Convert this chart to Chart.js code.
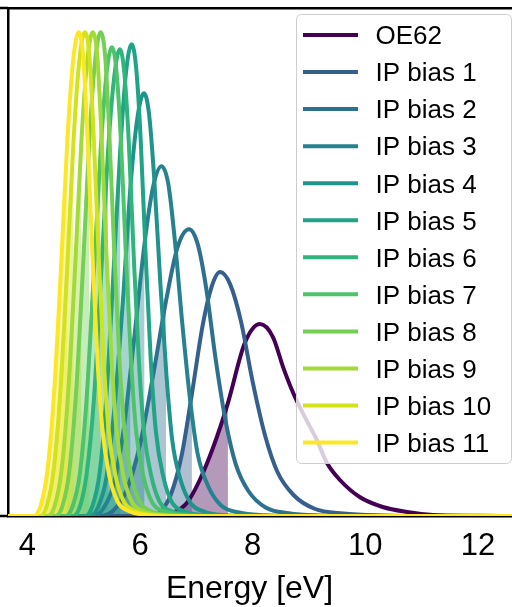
<!DOCTYPE html>
<html>
<head>
<meta charset="utf-8">
<script src="https://cdn.jsdelivr.net/npm/chart.js@4/dist/chart.umd.min.js"></script>
<style>
  html, body { margin: 0; padding: 0; background: #ffffff; }
  #wrap { width: 512px; height: 607px; }
</style>
</head>
<body>
<div id="wrap"><canvas id="chart" width="512" height="607"></canvas></div>
<script>
// Energy distributions (density vs. energy in eV), one curve per data set.
const seriesNames = ['OE62', 'IP bias 1', 'IP bias 2', 'IP bias 3', 'IP bias 4', 'IP bias 5',
  'IP bias 6', 'IP bias 7', 'IP bias 8', 'IP bias 9', 'IP bias 10', 'IP bias 11'];

const seriesColors = ['#440154', '#355f8d', '#2d718e', '#26828e', '#20938c', '#20a386',
  '#2fb47c', '#4ec36b', '#74cf54', '#a2da37', '#d2e21b', '#fde725'];

// [energy, density] pairs
const oe62 = [[3.6,0],[6.2,0],[6.4,0.004],[6.58,0.012],[6.83,0.052],[7.06,0.144],[7.30,0.276],[7.56,0.452],[7.86,0.692],[8.13,0.768],[8.36,0.716],[8.54,0.596],[8.72,0.492],[8.89,0.412],[9.14,0.304],[9.32,0.212],[9.55,0.144],[9.90,0.076],[10.31,0.036],[10.74,0.016],[11.20,0.004],[12.0,0.001],[12.7,0]];
const ipBias1 = [[3.6,0],[6.18,0],[6.37,0.020],[6.55,0.088],[6.74,0.244],[6.92,0.488],[7.11,0.761],[7.27,0.917],[7.42,0.976],[7.60,0.927],[7.79,0.781],[8.00,0.537],[8.22,0.322],[8.44,0.176],[8.73,0.083],[9.10,0.029],[9.61,0.010],[10.34,0.002],[11.07,0],[12.7,0]];
const ipBias2 = [[3.6,0],[5.29,0],[5.53,0.023],[5.76,0.103],[6.00,0.287],[6.24,0.574],[6.46,0.86],[6.67,1.079],[6.87,1.148],[7.02,1.091],[7.17,0.918],[7.34,0.631],[7.52,0.379],[7.70,0.207],[7.93,0.098],[8.23,0.034],[8.64,0.011],[9.23,0.002],[9.82,0],[12.7,0]];
const ipBias3 = [[3.6,0],[5.16,0],[5.34,0.028],[5.53,0.126],[5.71,0.35],[5.89,0.70],[6.08,1.092],[6.23,1.316],[6.38,1.40],[6.50,1.33],[6.61,1.12],[6.75,0.77],[6.89,0.462],[7.02,0.252],[7.21,0.119],[7.44,0.042],[7.76,0.014],[8.22,0.003],[8.68,0],[12.7,0]];
const ipBias4 = [[3.6,0],[5.11,0],[5.25,0.034],[5.40,0.152],[5.54,0.423],[5.69,0.846],[5.83,1.32],[5.95,1.59],[6.07,1.692],[6.16,1.607],[6.25,1.354],[6.36,0.931],[6.47,0.558],[6.57,0.305],[6.72,0.144],[6.90,0.051],[7.15,0.017],[7.51,0.003],[7.87,0],[12.7,0]];
const ipBias5 = [[3.6,0],[5.03,0],[5.15,0.038],[5.28,0.170],[5.40,0.472],[5.52,0.944],[5.65,1.473],[5.75,1.775],[5.85,1.888],[5.93,1.794],[6.01,1.510],[6.10,1.038],[6.19,0.623],[6.28,0.340],[6.41,0.160],[6.56,0.057],[6.78,0.019],[7.09,0.004],[7.40,0],[12.7,0]];
const ipBias6 = [[3.6,0],[4.80,0],[4.93,0.037],[5.05,0.168],[5.18,0.467],[5.30,0.934],[5.43,1.457],[5.54,1.756],[5.64,1.868],[5.72,1.775],[5.80,1.494],[5.89,1.027],[5.98,0.616],[6.07,0.336],[6.20,0.159],[6.35,0.056],[6.57,0.019],[6.88,0.004],[7.19,0],[12.7,0]];
const ipBias7 = [[3.6,0],[4.68,0],[4.80,0.038],[4.93,0.169],[5.05,0.469],[5.17,0.938],[5.30,1.463],[5.40,1.763],[5.50,1.876],[5.58,1.782],[5.66,1.501],[5.75,1.032],[5.84,0.619],[5.93,0.338],[6.06,0.159],[6.21,0.056],[6.43,0.019],[6.74,0.004],[7.05,0],[12.7,0]];
const ipBias8 = [[3.6,0],[4.50,0],[4.62,0.039],[4.74,0.174],[4.86,0.484],[4.98,0.968],[5.10,1.510],[5.20,1.820],[5.30,1.936],[5.38,1.839],[5.45,1.549],[5.54,1.065],[5.63,0.639],[5.72,0.348],[5.84,0.165],[5.99,0.058],[6.20,0.019],[6.50,0.004],[6.80,0],[12.7,0]];
const ipBias9 = [[3.6,0],[4.36,0],[4.48,0.039],[4.60,0.174],[4.72,0.484],[4.84,0.968],[4.96,1.510],[5.06,1.820],[5.16,1.936],[5.24,1.839],[5.31,1.549],[5.40,1.065],[5.49,0.639],[5.58,0.348],[5.70,0.165],[5.85,0.058],[6.06,0.019],[6.36,0.004],[6.66,0],[12.7,0]];
const ipBias10 = [[3.6,0],[4.22,0],[4.34,0.039],[4.46,0.174],[4.58,0.484],[4.70,0.968],[4.82,1.510],[4.92,1.820],[5.02,1.936],[5.10,1.839],[5.17,1.549],[5.26,1.065],[5.35,0.639],[5.44,0.348],[5.56,0.165],[5.71,0.058],[5.92,0.019],[6.22,0.004],[6.52,0],[12.7,0]];
const ipBias11 = [[3.6,0],[4.11,0],[4.23,0.039],[4.35,0.174],[4.47,0.484],[4.59,0.968],[4.71,1.510],[4.81,1.820],[4.91,1.936],[4.99,1.839],[5.06,1.549],[5.15,1.065],[5.24,0.639],[5.33,0.348],[5.45,0.165],[5.60,0.058],[5.81,0.019],[6.11,0.004],[6.41,0],[12.7,0]];

// Left-tail region of each curve is shaded up to this energy
const shadeTo = [7.56, 6.92, 6.46, 6.08, 5.83, 5.65, 5.43, 5.30, 5.10, 4.96, 4.82, 4.71];

const xTickValues = [4, 6, 8, 10, 12];
const xTitle = 'Energy [eV]';
const xRange = [3.654, 12.606];
const yRange = [0, 2.033];

const curves = [oe62, ipBias1, ipBias2, ipBias3, ipBias4, ipBias5, ipBias6,
  ipBias7, ipBias8, ipBias9, ipBias10, ipBias11];

function toPoints(pairs) { return pairs.map(([e, d]) => ({ x: e, y: d })); }
function withAlpha(hex, a) {
  const n = parseInt(hex.slice(1), 16);
  return `rgba(${(n >> 16) & 255},${(n >> 8) & 255},${n & 255},${a})`;
}

const FONT = '"Liberation Sans", Arial, Helvetica, sans-serif';
const last = curves.length - 1;
const datasets = [];

// shaded left tails, drawn beneath every line
curves.forEach((pairs, i) => {
  datasets.push({
    label: seriesNames[i] + ' (shade)',
    data: toPoints(pairs.filter(p => p[0] <= shadeTo[i] + 1e-9)),
    borderWidth: 0,
    borderColor: 'rgba(0,0,0,0)',
    backgroundColor: withAlpha(seriesColors[i], 0.4),
    fill: 'origin',
    pointRadius: 0,
    cubicInterpolationMode: 'monotone',
    order: 100 + (last - i)
  });
});

// the density curves, later series on top
curves.forEach((pairs, i) => {
  datasets.push({
    label: seriesNames[i],
    data: toPoints(pairs),
    borderColor: seriesColors[i],
    borderWidth: 4,
    fill: false,
    pointRadius: 0,
    cubicInterpolationMode: 'monotone',
    order: last - i
  });
});

// frame stubs left of the y axis and the x-axis title
const frameAndTitle = {
  id: 'frameAndTitle',
  afterDraw(chart) {
    const { ctx, chartArea } = chart;
    ctx.save();
    ctx.fillStyle = '#000000';
    ctx.fillRect(0, chartArea.top - 1.25, chartArea.left, 2.5);
    ctx.fillRect(0, chartArea.bottom - 1.25, chartArea.left, 2.5);
    ctx.font = `32px ${FONT}`;
    ctx.textAlign = 'center';
    ctx.textBaseline = 'alphabetic';
    ctx.fillText(xTitle, 249.5, 598);
    ctx.restore();
  }
};

// legend panel drawn over the plot
const legendPanel = {
  id: 'legendPanel',
  afterDraw(chart) {
    const ctx = chart.ctx;
    const box = { x: 296, y: 14, w: 215, h: 449, r: 5 };
    const rowY0 = 35, rowGap = 37.05, size = 26;
    ctx.save();
    ctx.beginPath();
    ctx.roundRect(box.x + 0.5, box.y + 0.5, box.w, box.h, box.r);
    ctx.fillStyle = 'rgba(255,255,255,0.8)';
    ctx.fill();
    ctx.strokeStyle = '#cccccc';
    ctx.lineWidth = 1;
    ctx.stroke();
    ctx.font = `${size}px ${FONT}`;
    ctx.textBaseline = 'alphabetic';
    ctx.textAlign = 'left';
    seriesNames.forEach((name, i) => {
      const y = rowY0 + i * rowGap;
      ctx.beginPath();
      ctx.strokeStyle = seriesColors[i];
      ctx.lineWidth = 4;
      ctx.lineCap = 'butt';
      ctx.moveTo(303, y);
      ctx.lineTo(358, y);
      ctx.stroke();
      ctx.fillStyle = '#000000';
      ctx.fillText(name, 375.5, y + 0.358 * size);
    });
    ctx.restore();
  }
};

new Chart(document.getElementById('chart'), {
  type: 'line',
  data: { datasets },
  options: {
    responsive: false,
    devicePixelRatio: 1,
    animation: false,
    layout: { padding: 0 },
    plugins: { legend: { display: false }, tooltip: { enabled: false } },
    scales: {
      x: {
        type: 'linear', position: 'bottom', min: xRange[0], max: xRange[1], z: 1,
        afterBuildTicks: s => { s.ticks = xTickValues.map(v => ({ value: v })); },
        afterFit: s => { s.height = 91; },
        ticks: { color: '#000', font: { family: FONT, size: 31 }, padding: 12, maxRotation: 0, autoSkip: false },
        grid: { display: false, drawTicks: false },
        border: { display: true, color: '#000', width: 2.5 }
      },
      xTop: {
        type: 'linear', position: 'top', min: xRange[0], max: xRange[1], z: 1,
        afterFit: s => { s.height = 8; },
        ticks: { display: false },
        grid: { display: false, drawTicks: false },
        border: { display: true, color: '#000', width: 2.5 }
      },
      y: {
        type: 'linear', position: 'left', min: yRange[0], max: yRange[1], z: 1,
        afterFit: s => { s.width = 8; },
        ticks: { display: false },
        grid: { display: false, drawTicks: false },
        border: { display: true, color: '#000', width: 2.5 }
      }
    }
  },
  plugins: [frameAndTitle, legendPanel]
});
</script>
</body>
</html>
